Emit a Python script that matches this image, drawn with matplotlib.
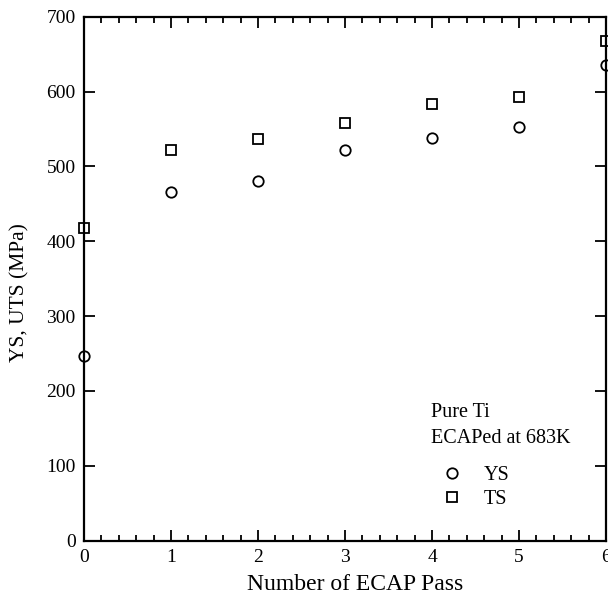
import matplotlib
matplotlib.use("Agg")
import matplotlib.pyplot as plt
from matplotlib.ticker import MultipleLocator

passes = [0, 1, 2, 3, 4, 5, 6]
ys = [247, 466, 480, 522, 538, 553, 635]
ts = [418, 522, 536, 558, 583, 593, 668]

plt.rcParams["font.family"] = ["Liberation Serif", "DejaVu Serif"]

fig = plt.figure(figsize=(6.08, 6.01), dpi=100)
ax = fig.add_axes([84 / 608, 60.5 / 601, 522 / 608, 523.8 / 601])

ax.plot(passes, ys, "o", mfc="white", mec="black", mew=1.3, ms=7.5, label="YS", clip_on=False)
ax.plot(passes, ts, "s", mfc="white", mec="black", mew=1.3, ms=7.5, label="TS", clip_on=False)

ax.set_xlim(0, 6)
ax.set_ylim(0, 700)
ax.xaxis.set_major_locator(MultipleLocator(1))
ax.xaxis.set_minor_locator(MultipleLocator(0.2))
ax.yaxis.set_major_locator(MultipleLocator(100))
ax.tick_params(which="both", direction="in", top=True, right=True, labelsize=14, width=1.3)
ax.tick_params(which="major", length=8, pad=6)
ax.tick_params(which="minor", length=4)
for s in ax.spines.values():
    s.set_linewidth(1.6)

ax.set_xlabel("Number of ECAP Pass", fontsize=17)
ax.set_ylabel("YS, UTS (MPa)", fontsize=15.5)
ax.xaxis.set_label_coords(0.519, -0.064)
ax.yaxis.set_label_coords(-0.105, 0.474)

ax.text(0.665, 0.262, "Pure Ti\nECAPed at 683K", transform=ax.transAxes,
        fontsize=14.5, va="top", ha="left", linespacing=1.5)
ax.legend(loc="upper left", bbox_to_anchor=(0.685, 0.143), frameon=False, fontsize=14.5,
          handlelength=1.0, handletextpad=1.1, labelspacing=0.25, borderaxespad=0,
          borderpad=0)

fig.savefig("out.png", dpi=100)
